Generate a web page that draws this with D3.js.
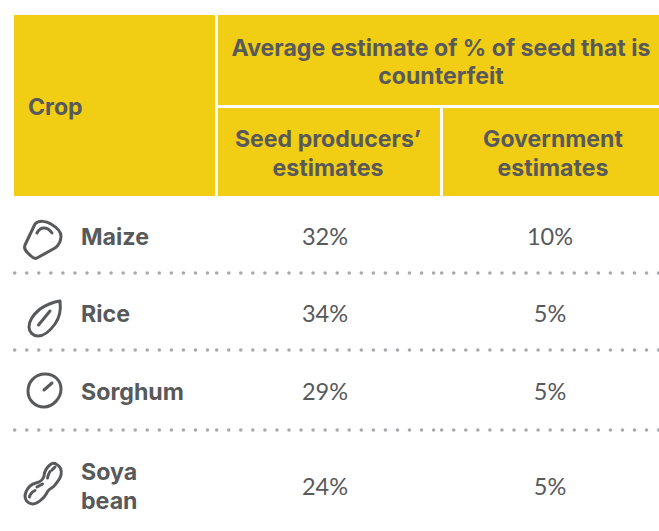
<!DOCTYPE html>
<html lang="en">
<head>
<meta charset="utf-8">
<title>Counterfeit seed estimates</title>
<script src="https://d3js.org/d3.v7.min.js"></script>
<style>
    html, body { margin: 0; padding: 0; background: #fff; }
    svg { display: block; }
    text { font-family: Inter, sans-serif; fill: #58595b; }
    .head { font-weight: 700; font-size: 23.1px; }
    .crop { font-weight: 700; font-size: 23.2px; }
    .val { font-family: Lato, sans-serif; font-weight: 400; font-size: 23.5px; }
</style>
</head>
<body>
<svg width="659" height="531"></svg>
<script>
    var crops = ["Maize", "Rice", "Sorghum", "Soya bean"];
    var producers = [32, 34, 29, 24];
    var government = [10, 5, 5, 5];

    var rowCentres = [237, 314, 392, 487];
    var ruleRows = [273, 350, 430];

    var svg = d3.select("svg");
    var ink = "#58595b", yellow = "#f1cd14";

    // header blocks
    var blocks = [
        [14, 15, 201, 181],
        [218, 15, 441, 90],
        [218, 108, 222, 88],
        [443, 108, 216, 88]
    ];
    svg.selectAll("rect.block").data(blocks).enter().append("rect")
        .attr("class", "block")
        .attr("x", function(d) { return d[0]; })
        .attr("y", function(d) { return d[1]; })
        .attr("width", function(d) { return d[2]; })
        .attr("height", function(d) { return d[3]; })
        .attr("fill", yellow);

    var heads = [
        ["Crop", 28, 115, "start"],
        ["Average estimate of % of seed that is", 441, 56, "middle"],
        ["counterfeit", 441, 84, "middle"],
        ["Seed producers\u2019", 328, 147, "middle"],
        ["estimates", 328, 176, "middle"],
        ["Government", 553, 147, "middle"],
        ["estimates", 553, 176, "middle"]
    ];
    svg.selectAll("text.head").data(heads).enter().append("text")
        .attr("class", "head")
        .attr("x", function(d) { return d[1]; })
        .attr("y", function(d) { return d[2]; })
        .attr("text-anchor", function(d) { return d[3]; })
        .text(function(d) { return d[0]; });

    // rows
    var y = d3.scaleOrdinal().domain(crops).range(rowCentres);

    crops.forEach(function(c, i) {
        var parts = c === "Soya bean" ? ["Soya", "bean"] : [c];
        parts.forEach(function(p, j) {
            svg.append("text").attr("class", "crop")
                .attr("x", 81)
                .attr("y", y(c) + 8 + (parts.length > 1 ? (j === 0 ? -15 : 14) : 0))
                .text(p);
        });
        svg.append("text").attr("class", "val")
            .attr("x", 325).attr("y", y(c) + 8)
            .attr("text-anchor", "middle")
            .text(producers[i] + "%");
        svg.append("text").attr("class", "val")
            .attr("x", 550).attr("y", y(c) + 8)
            .attr("text-anchor", "middle")
            .text(government[i] + "%");
    });

    // dotted rules, one run per column
    var runs = [[14.7, 210], [216.7, 436], [441.7, 659]];
    ruleRows.forEach(function(ry) {
        runs.forEach(function(r) {
            svg.append("line")
                .attr("x1", r[0]).attr("x2", r[1])
                .attr("y1", ry).attr("y2", ry)
                .attr("stroke", "#a7a9ac")
                .attr("stroke-width", 3.6)
                .attr("stroke-linecap", "round")
                .attr("stroke-dasharray", "0 12.05");
        });
    });

    // crop icons
    var icons = [
        "M25 245L35 224C39 220 46 221 51 224C56 227 61 231 61 236C61 241 59 245 55 248L37 258C35 259 33 258 31 256C28 253 23 250 25 245Z M37 233C39 229 42 228 44 228C47 228 50 230 52 233",
        "M60 301C61 309 60 317 55 324C50 331 44 336 38 336C33 336 29 332 29 327C29 320 34 314 40 309C46 305 53 302 60 301Z M38.500 325L50 311",
        "M28 391C28 382 35 374 45 374C55 374 61 381 61 389C61 398 53 407 44 407C35 407 28 400 28 391Z M44 390L52 383",
        "M56 464C60 466 62 470 61 475C60 480 57 482 55 485C53 488 50 488 48 491C46 494 45 497 42 499C38 503 33 505 29 503C25 501 24 496 26 492C28 487 32 484 36 483C40 482 43 480 44 476C44 471 48 466 51 464C53 463 55 463 56 464Z M29.500 497C30 494 32 492 35 490.500 M37 487L42.500 484 M47.500 478C48 475 49 473 50 471.500 M52 470L55 467"
    ];
    svg.selectAll("path.icon").data(icons).enter().append("path")
        .attr("class", "icon")
        .attr("d", function(d) { return d; })
        .attr("fill", "none")
        .attr("stroke", ink)
        .attr("stroke-width", 3)
        .attr("stroke-linecap", "round")
        .attr("stroke-linejoin", "round");
</script>
</body>
</html>
